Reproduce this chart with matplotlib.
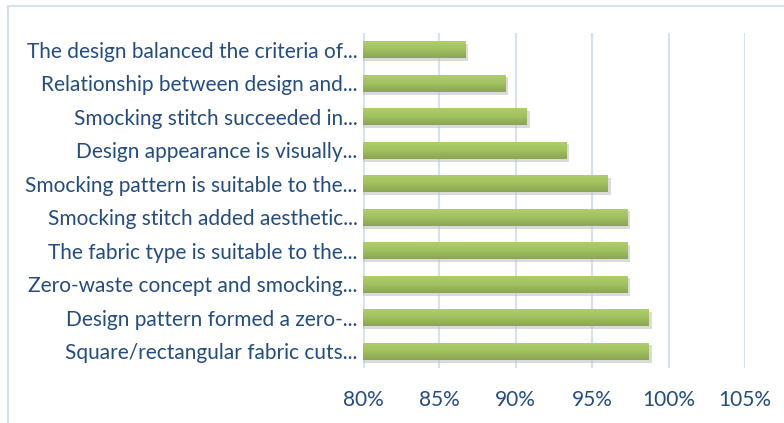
import numpy as np
import matplotlib.pyplot as plt
from matplotlib.patches import Rectangle
from matplotlib.colors import LinearSegmentedColormap

# survey statements, listed bottom to top as drawn on the y axis
labels = [
    "Square/rectangular fabric cuts...",
    "Design pattern formed a zero-...",
    "Zero-waste concept and smocking...",
    "The fabric type is suitable to the...",
    "Smocking stitch added aesthetic...",
    "Smocking pattern is suitable to the...",
    "Design appearance is visually...",
    "Smocking stitch succeeded in...",
    "Relationship between design and...",
    "The design balanced the criteria of...",
]
values = [98.7, 98.7, 97.3, 97.3, 97.3, 96.0, 93.3, 90.7, 89.3, 86.7]
xticks = [80, 85, 90, 95, 100, 105]

text_col = "#244C7F"
grid_col = "#D5E1F0"

plt.rcParams['font.family'] = ['Lato', 'DejaVu Sans']

fig = plt.figure(figsize=(7.84, 4.23), dpi=100)
# light blue frame round the chart
fig.patches.append(Rectangle((8 / 784, -0.1), 1.2, 1 - 6 / 423 + 0.1,
                             transform=fig.transFigure, fill=False,
                             edgecolor=grid_col, linewidth=1.5))

ax = fig.add_axes([363 / 784, 1 - 368 / 423, (745 - 363) / 784, (368 - 33) / 423])
y = np.arange(len(labels))
h = 0.52

# shadow under each bar
ax.barh(y - 0.08, np.array(values) - 80 + 0.2, left=80, height=h,
        color="#C4C4C4", alpha=0.6, zorder=2)
bars = ax.barh(y, np.array(values) - 80, left=80, height=h,
               color="#9BBB59", zorder=3)

# vertical gradient fill, lighter on top
cmap = LinearSegmentedColormap.from_list("g", ["#8AA555", "#A2C15F", "#B0D06C"])
grad = np.linspace(0, 1, 64).reshape(-1, 1)
for b in bars:
    x0, y0 = b.get_x(), b.get_y()
    im = ax.imshow(grad, cmap=cmap, aspect="auto", origin="lower",
                   extent=(x0, x0 + b.get_width(), y0, y0 + b.get_height()),
                   zorder=4)
    im.set_clip_path(b)

ax.set_xlim(80, 105)
ax.set_ylim(-0.5, len(labels) - 0.5)
ax.set_xticks(xticks)
ax.set_xticklabels([f"{t}%" for t in xticks])
ax.set_yticks(y)
ax.set_yticklabels(labels)
ax.tick_params(length=0, labelsize=15, labelcolor=text_col)
ax.tick_params(axis="x", pad=16)
ax.tick_params(axis="y", pad=4)
ax.grid(axis="x", color=grid_col, linewidth=1.5, zorder=0)
ax.set_axisbelow(True)
for s in ax.spines.values():
    s.set_visible(False)
ax.axvline(80, color=grid_col, linewidth=2, zorder=1)

fig.savefig("out.png", dpi=100)
